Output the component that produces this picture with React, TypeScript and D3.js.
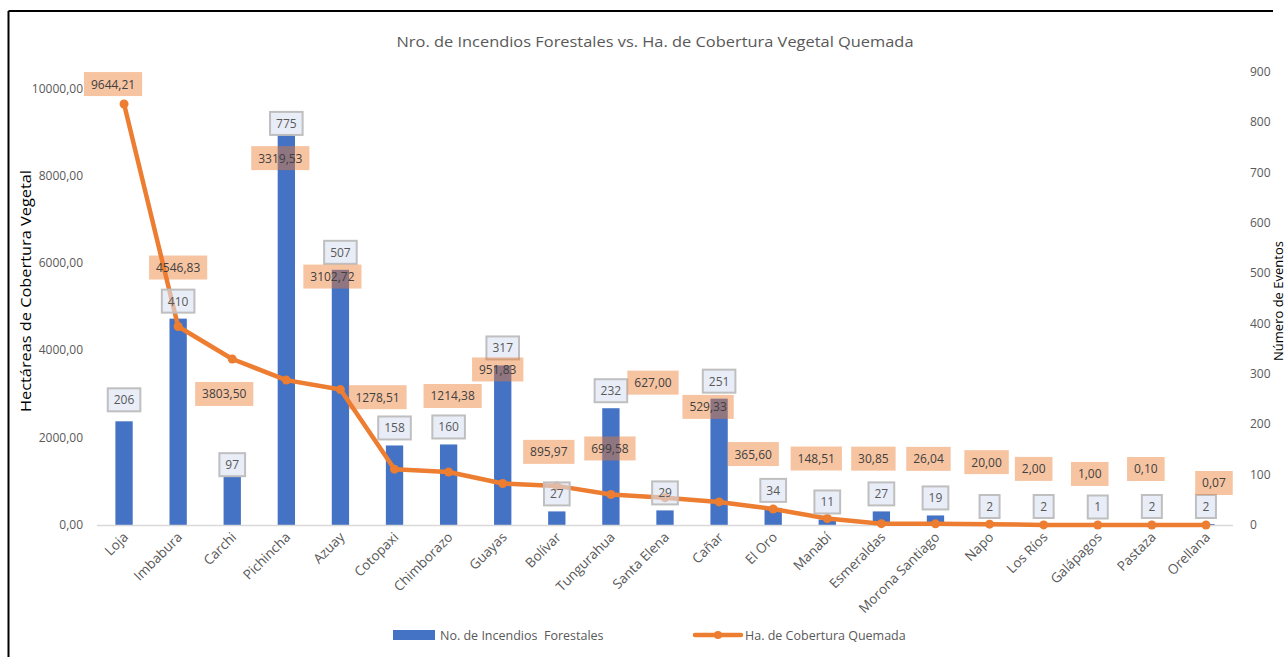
import React from "react";
import * as d3 from "d3";

const provinces = ["Loja","Imbabura","Carchi","Pichincha","Azuay","Cotopaxi","Chimborazo","Guayas","Bolívar","Tungurahua","Santa Elena","Cañar","El Oro","Manabí","Esmeraldas","Morona Santiago","Napo","Los Ríos","Galápagos","Pastaza","Orellana"];
const incendios = [206,410,97,775,507,158,160,317,27,232,29,251,34,11,27,19,2,2,1,2,2];
const hectareas = [9644.21,4546.83,3803.50,3319.53,3102.72,1278.51,1214.38,951.83,895.97,699.58,627.00,529.33,365.60,148.51,30.85,26.04,20.00,2.00,1.00,0.10,0.07];
const leftTicks = [0,2000,4000,6000,8000,10000];
const rightTicks = [0,100,200,300,400,500,600,700,800,900];

// manual label placement (pixel offsets from the point), as in the source chart
const lineLabelOffsets: [number, number][] = [[-11,-20],[0,-59],[-8,35],[-6,-222],[-8,-113],[-17,-72],[4,-76],[-5,-114],[-8,-34],[-1,-46],[-12,-115],[-11,-95],[-20,-55],[-11,-60],[-8,-65],[-7,-65],[-3,-62],[-10,-56],[-8,-51],[-6,-56],[8,-42]];
const barLabelShift = [-4,0,6,6,0,0,0,0,0,0,0,0,0,0,0,0,0,0,0,0,0];

const W = 1288, H = 657;
const FONT = "'Open Sans', 'Noto Sans', sans-serif";
const GRAY = "#595959";

const fmt = (v: number) => v.toFixed(2).replace(".", ",");
const textW = (s: string, size: number) =>
  Array.from(s).reduce((a, c) => a + (/[0-9]/.test(c) ? 0.572 : c === "," ? 0.25 : 0.5), 0) * size;

export default function App() {
  const x = d3.scaleBand<string>().domain(provinces).range([97, 1233]).paddingInner(0.68).paddingOuter(0.34);
  const yL = d3.scaleLinear().domain([0, 10000]).range([525, 88.5]);
  const yR = d3.scaleLinear().domain([0, 900]).range([525, 72]);
  const cx = (p: string) => (x(p) as number) + x.bandwidth() / 2;
  const line = d3.line<number>().x((_, i) => cx(provinces[i])).y((d) => yL(d));

  return (
    <svg width={W} height={H} style={{ position: "absolute", left: 0, top: 0, background: "#fff" }} fontFamily={FONT}>
      <rect x={0} y={0} width={W} height={H} fill="#fff" />
      {/* frame */}
      <line x1={8.5} y1={11} x2={1273} y2={11} stroke="#000" strokeWidth={2} />
      <line x1={8.5} y1={11} x2={8.5} y2={H} stroke="#000" strokeWidth={2} />

      <text x={655} y={47} textAnchor="middle" fontSize={15} fill={GRAY} textLength={517} lengthAdjust="spacingAndGlyphs">
        Nro. de Incendios Forestales vs. Ha. de Cobertura Vegetal Quemada
      </text>

      {/* axes tick labels */}
      {leftTicks.map((t) => (
        <text key={"l" + t} x={83} y={yL(t) + 4} textAnchor="end" fontSize={12} fill={GRAY}>{fmt(t)}</text>
      ))}
      {rightTicks.map((t) => (
        <text key={"r" + t} x={1250} y={yR(t) + 4} textAnchor="start" fontSize={12} fill={GRAY}>{t}</text>
      ))}
      <text transform={`translate(31,291) rotate(-90)`} textAnchor="middle" fontSize={14} fill="#000" textLength={242} lengthAdjust="spacingAndGlyphs">
        Hectáreas de Cobertura Vegetal
      </text>
      <text transform={`translate(1283,301) rotate(-90)`} textAnchor="middle" fontSize={13} fill="#000">
        Número de Eventos
      </text>

      {/* bars */}
      {provinces.map((p, i) => (
        <rect key={"b" + p} x={x(p)} y={yR(incendios[i])} width={x.bandwidth()} height={525 - yR(incendios[i])} fill="#4472C4" />
      ))}
      <line x1={97} x2={1233} y1={525.5} y2={525.5} stroke="#D9D9D9" strokeWidth={1.5} />

      {/* line */}
      <path d={line(hectareas) || ""} fill="none" stroke="#ED7D31" strokeWidth={4.5} strokeLinejoin="round" strokeLinecap="round" />
      {hectareas.map((v, i) => (
        <circle key={"c" + i} cx={cx(provinces[i])} cy={yL(v)} r={4.5} fill="#ED7D31" />
      ))}

      {/* bar labels */}
      {provinces.map((p, i) => {
        const s = String(incendios[i]);
        const w = Math.max(20, textW(s, 12) + 12);
        const h = 23;
        const bottom = yR(incendios[i]) - 6 + barLabelShift[i];
        const c = cx(p);
        return (
          <g key={"bl" + p}>
            <rect x={c - w / 2} y={bottom - h} width={w} height={h} fill="#D9E1F2" fillOpacity={0.6} stroke="#BFBFBF" strokeWidth={2} />
            <text x={c} y={bottom - h / 2 + 4.5} textAnchor="middle" fontSize={12} fill={GRAY}>{s}</text>
          </g>
        );
      })}

      {/* line labels */}
      {hectareas.map((v, i) => {
        const s = fmt(v);
        const w = textW(s, 12) + 14;
        const h = 24;
        const c = cx(provinces[i]) + lineLabelOffsets[i][0];
        const m = yL(v) + lineLabelOffsets[i][1];
        return (
          <g key={"ll" + i}>
            <rect x={c - w / 2} y={m - h / 2} width={w} height={h} fill="#ED7D31" fillOpacity={0.45} />
            <text x={c} y={m + 4.5} textAnchor="middle" fontSize={12} fill="#404040">{s}</text>
          </g>
        );
      })}

      {/* x labels */}
      {provinces.map((p) => (
        <text key={"x" + p} transform={`translate(${cx(p) + 5},538) rotate(-45)`} textAnchor="end" fontSize={13.5} fill={GRAY}>{p}</text>
      ))}

      {/* legend */}
      <rect x={393} y={630} width={42} height={10} fill="#4472C4" />
      <text x={440} y={640} fontSize={12.5} fill={GRAY} style={{ whiteSpace: "pre" }}>No. de Incendios  Forestales</text>
      <line x1={695} x2={741} y1={635} y2={635} stroke="#ED7D31" strokeWidth={4.5} strokeLinecap="round" />
      <circle cx={718} cy={635} r={4} fill="#ED7D31" />
      <text x={745} y={640} fontSize={12.5} fill={GRAY}>Ha. de Cobertura Quemada</text>
    </svg>
  );
}
